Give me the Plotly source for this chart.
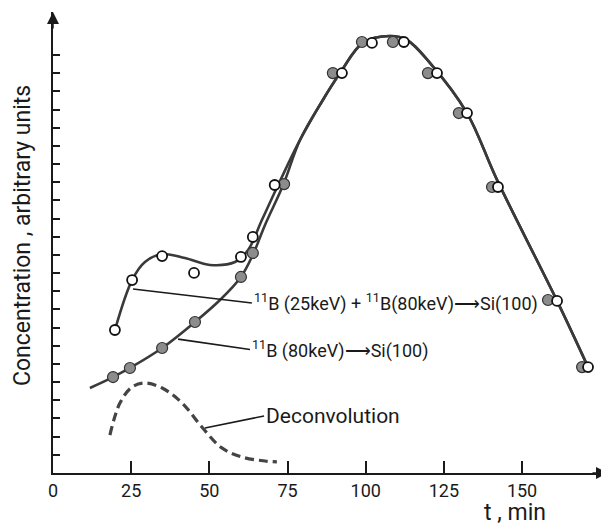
import plotly.graph_objects as go

# ---- data (t in min, concentration in axis-tick units) ----
# open circles: 11B(25keV)+11B(80keV) -> Si(100)
t_comb = [19.8, 25.3, 34.9, 45.1, 60.1, 63.9, 70.9, 92.4, 102.0, 112.2, 122.8, 132.4, 142.3, 161.2, 171.1]
c_comb = [7.87, 10.62, 11.94, 11.01, 11.89, 12.99, 15.85, 22.01, 23.67, 23.72, 22.01, 19.81, 15.74, 9.47, 5.83]

# filled circles: 11B(80keV) -> Si(100)
t_80 = [19.2, 24.6, 34.9, 45.4, 60.1, 63.9, 73.9, 89.5, 98.8, 108.7, 119.9, 129.8, 140.4, 158.3, 169.2]
c_80 = [5.28, 5.78, 6.88, 8.31, 10.79, 12.11, 15.9, 22.01, 23.72, 23.72, 22.01, 19.81, 15.74, 9.52, 5.83]

# hand-drawn smooth curves (knots)
curve_upper_t = [79.0, 86.3, 91.8, 99.1, 107.8, 113.2, 120.6, 132.4, 142.0, 161.2, 171.1]
curve_upper_c = [18.33, 20.53, 22.01, 23.67, 24.05, 23.83, 22.56, 19.81, 16.13, 9.47, 5.83]

curve_comb_t = [19.8, 25.3, 29.4, 34.9, 42.2, 50.2, 58.2, 62.4, 66.8, 72.0]
curve_comb_c = [7.87, 10.62, 11.61, 12.05, 11.83, 11.45, 11.61, 12.27, 13.92, 15.85]

curve_80_t = [11.8, 19.2, 24.6, 34.9, 45.4, 53.4, 60.1, 63.9, 67.8, 73.6]
curve_80_c = [4.68, 5.28, 5.78, 6.88, 8.31, 9.52, 10.79, 12.0, 13.65, 15.85]

# deconvolution (dashed)
decon_t = [18.2, 21.4, 25.3, 29.4, 34.9, 41.3, 47.6, 54.0, 60.4, 67.8, 71.6]
decon_c = [2.09, 3.85, 4.73, 4.95, 4.68, 3.85, 2.53, 1.38, 0.88, 0.66, 0.61]

x_ticks = [0, 25, 50, 75, 100, 125, 150]
x_tick_labels = ["0", "25", "50", "75", "100", "125", "150"]
y_ticks = list(range(1, 24))

label_comb = "<sup>11</sup>B (25keV) + <sup>11</sup>B(80keV)⟶Si(100)"
label_80 = "<sup>11</sup>B (80keV)⟶Si(100)"
label_decon = "Deconvolution"
x_title = "t , min"
y_title = "Concentration , arbitrary units"

FONT = "Roboto"
INK = "#1a1a1a"
LINE = "#3a3a3a"

# the page body adds an 8px margin: figure is sized to the remaining window
FIG_W, FIG_H = 601, 518
M_L, M_T, M_B, M_R = 45, 4, 53, 0
PW = FIG_W - M_L - M_R   # 556
PH = FIG_H - M_T - M_B   # 461

fig = go.Figure()

fig.add_trace(go.Scatter(x=curve_80_t + curve_upper_t, y=curve_80_c + curve_upper_c,
                         mode="lines", line=dict(color=LINE, width=2.6, shape="spline", smoothing=1.0),
                         hoverinfo="skip", showlegend=False))
fig.add_trace(go.Scatter(x=curve_comb_t + curve_upper_t, y=curve_comb_c + curve_upper_c,
                         mode="lines", line=dict(color=LINE, width=2.6, shape="spline", smoothing=1.0),
                         hoverinfo="skip", showlegend=False))
fig.add_trace(go.Scatter(x=decon_t, y=decon_c, mode="lines",
                         line=dict(color="#444444", width=3.2, dash="9px,5px", shape="spline"),
                         hoverinfo="skip", showlegend=False))
fig.add_trace(go.Scatter(x=t_80, y=c_80, mode="markers",
                         marker=dict(size=11, color="#8c8c8c", line=dict(color="#333333", width=1.2)),
                         showlegend=False))
fig.add_trace(go.Scatter(x=t_comb, y=c_comb, mode="markers",
                         marker=dict(size=10, color="white", line=dict(color="#111111", width=1.8)),
                         showlegend=False))

ann_font = dict(family=FONT, size=18, color=INK)
annotations = [
    dict(x=25.6, y=10.13, ax=63.6, ay=9.36, xref="x", yref="y", axref="x", ayref="y",
         text=label_comb, showarrow=True, arrowhead=0, arrowwidth=1.6, arrowcolor=INK,
         xanchor="left", yanchor="middle", font=ann_font),
    dict(x=40.0, y=7.37, ax=63.0, ay=6.80, xref="x", yref="y", axref="x", ayref="y",
         text=label_80, showarrow=True, arrowhead=0, arrowwidth=1.6, arrowcolor=INK,
         xanchor="left", yanchor="middle", font=ann_font),
    dict(x=48.6, y=2.48, ax=67.5, ay=3.14, xref="x", yref="y", axref="x", ayref="y",
         text=label_decon, showarrow=True, arrowhead=0, arrowwidth=1.6, arrowcolor=INK,
         xanchor="left", yanchor="middle", font=dict(family=FONT, size=21, color=INK)),
    # axis titles
    dict(x=(515 - 53) / PW, y=(473 - 512) / PH, xref="paper", yref="paper", text=x_title,
         showarrow=False, xanchor="center", yanchor="middle",
         font=dict(family=FONT, size=23, color=INK)),
    dict(x=(22 - 53) / PW, y=(473 - 236) / PH, xref="paper", yref="paper", text=y_title,
         textangle=-90, showarrow=False, xanchor="center", yanchor="middle",
         font=dict(family=FONT, size=23, color=INK)),
    # axis arrow heads
    dict(x=1, y=0, xref="paper", yref="paper", ax=-18, ay=0, text="", showarrow=True,
         arrowhead=2, arrowsize=1.6, arrowwidth=1.5, arrowcolor=INK),
    dict(x=0, y=1, xref="paper", yref="paper", ax=0, ay=18, text="", showarrow=True,
         arrowhead=2, arrowsize=1.6, arrowwidth=1.5, arrowcolor=INK),
]

fig.update_layout(
    width=FIG_W, height=FIG_H,
    margin=dict(l=M_L, r=M_R, t=M_T, b=M_B),
    paper_bgcolor="white", plot_bgcolor="white",
    annotations=annotations,
    xaxis=dict(range=[0, PW / 3.127], showgrid=False, zeroline=False,
               showline=True, linecolor=INK, linewidth=2,
               tickmode="array", tickvals=x_ticks, ticktext=x_tick_labels,
               ticks="inside", ticklen=12, tickwidth=1.5, tickcolor=INK,
               tickfont=dict(family=FONT, size=18, color=INK)),
    yaxis=dict(range=[0, PH / 18.17], showgrid=False, zeroline=False,
               showline=True, linecolor=INK, linewidth=2,
               tickmode="array", tickvals=y_ticks, showticklabels=False,
               ticks="inside", ticklen=7, tickwidth=1.5, tickcolor=INK),
)

fig.write_html("out.html")
